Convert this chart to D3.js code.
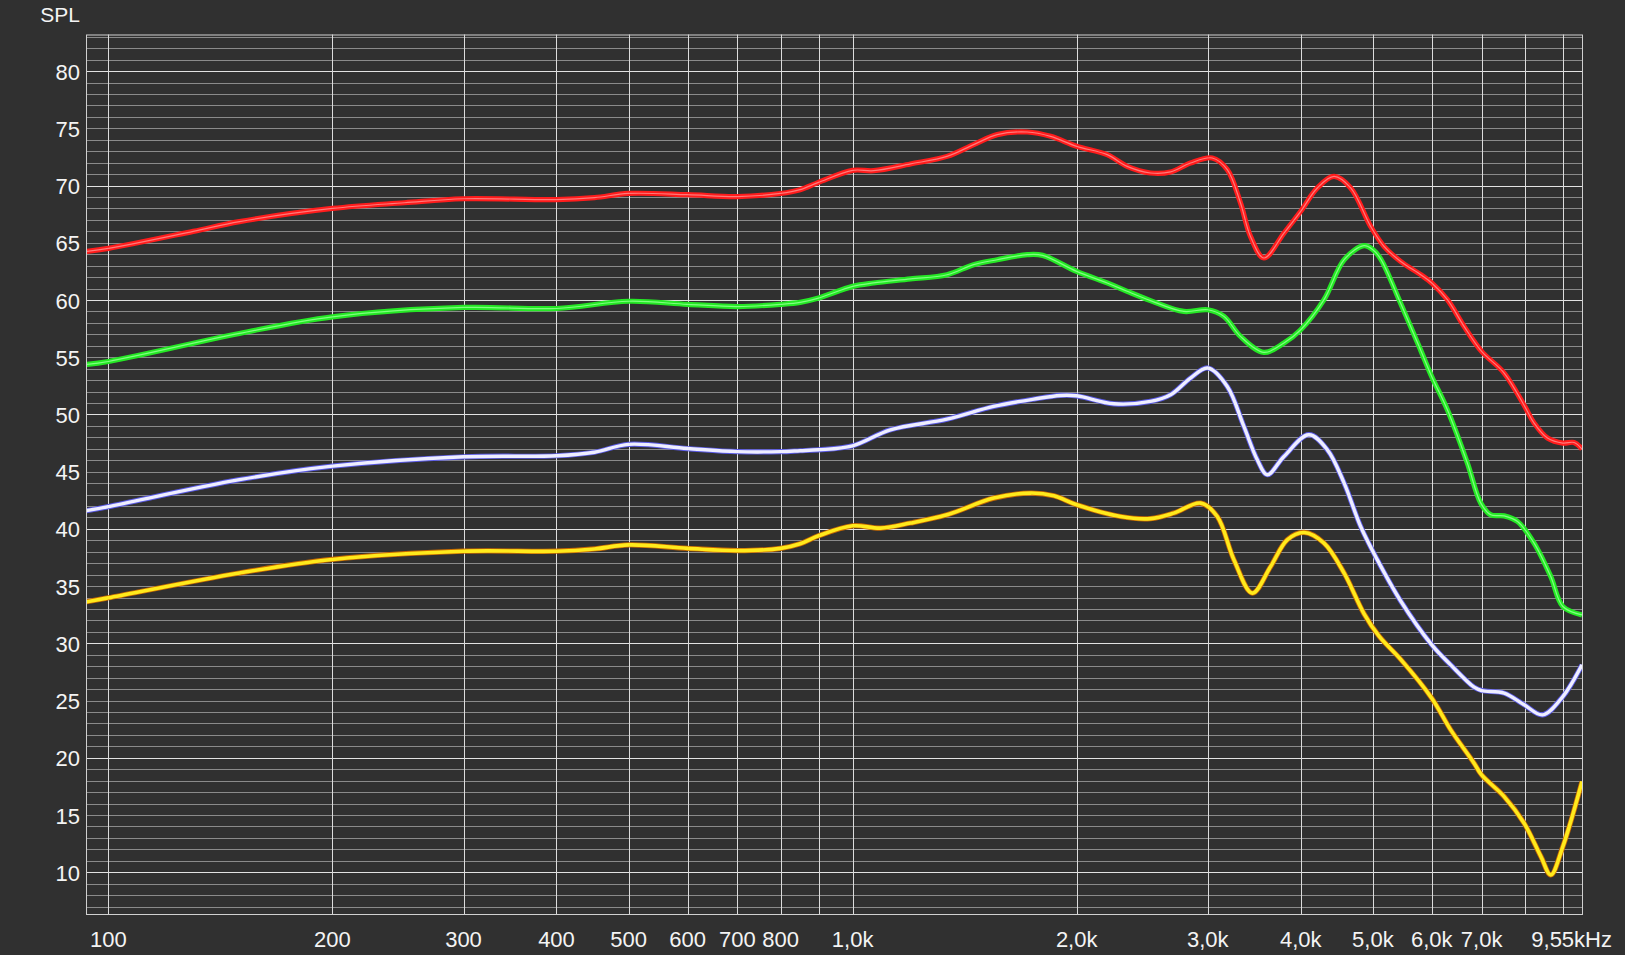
<!DOCTYPE html>
<html>
<head>
<meta charset="utf-8">
<script src="https://cdn.jsdelivr.net/npm/d3@7"></script>
<style>
  html, body { margin: 0; padding: 0; background: #303030; }
  svg { display: block; }
  text { font-family: "Liberation Sans", Arial, sans-serif; fill: #f4f4f4; }
</style>
</head>
<body>
<svg id="chart" width="1625" height="955"></svg>
<script>
// ---- Data (frequency in Hz, SPL in dB) ----
const redFreq = [93.3,100,130,150,200,250,300,400,450,500,600,700,800,850,900,1000,1067,1196,1339,1454,1564,1716,1845,2000,2198,2338,2513,2674,2844,3042,3187,3320,3424,3569,3798,4000,4211,4434,4669,4966,5175,5450,5799,6000,6297,6630,7000,7506,8000,8234,8582,9000,9318,9550];
const redSpl  = [64.24,64.51,66.0,66.85,68.0,68.5,68.85,68.77,68.95,69.31,69.2,69.04,69.31,69.64,70.28,71.33,71.3,71.89,72.55,73.58,74.45,74.68,74.3,73.43,72.7,71.68,71.1,71.19,71.97,72.41,71.39,68.48,65.56,63.67,65.85,67.75,69.79,70.8,69.79,66.43,64.69,63.37,62.21,61.49,60.03,57.7,55.51,53.62,50.7,49.25,47.94,47.5,47.55,46.97];

const greenFreq = [93.3,100,150,200,300,400,500,600,700,800,850,900,1000,1067,1196,1339,1454,1564,1716,1800,2000,2198,2338,2513,2786,3000,3154,3320,3569,3798,4000,4299,4575,4864,5000,5122,5450,5799,6000,6297,6699,6982,7201,7506,7823,8234,8670,9000,9550];
const greenSpl  = [54.36,54.63,57.08,58.53,59.35,59.26,59.89,59.62,59.43,59.62,59.79,60.17,61.19,61.49,61.84,62.21,63.09,63.52,63.96,63.9,62.5,61.49,60.76,59.95,59.0,59.15,58.57,56.82,55.42,56.24,57.4,60.03,63.52,64.75,64.4,63.6,59.7,55.6,53.3,50.41,45.75,42.25,41.23,41.14,40.65,38.76,35.84,33.22,32.49];

const blueFreq = [93.3,100,150,200,300,400,450,500,600,700,800,850,900,1000,1124,1339,1547,1752,1902,2000,2244,2513,2674,2844,3000,3187,3355,3497,3607,3798,4102,4344,4575,4815,5070,5450,6000,6362,6839,7000,7506,7985,8453,9000,9550];
const blueSpl  = [41.59,41.95,44.3,45.48,46.3,46.39,46.7,47.39,47.02,46.75,46.75,46.83,46.91,47.26,48.66,49.59,50.7,51.34,51.66,51.63,50.93,51.14,51.72,53.18,54.06,52.45,48.95,46.04,44.73,46.33,48.23,46.91,44.0,40.21,37.3,33.7,29.87,28.12,26.17,25.87,25.65,24.63,23.75,25.35,28.12];

const yellowFreq = [93.3,100,150,200,300,400,450,500,600,700,800,850,900,1000,1090,1196,1339,1547,1734,1864,2000,2291,2513,2701,2935,3090,3253,3444,3644,3837,4041,4299,4575,4864,5100,5450,6000,6362,6839,7000,7506,7985,8410,8670,9000,9550];
const yellowSpl  = [33.62,33.98,36.15,37.33,38.05,38.05,38.25,38.6,38.3,38.1,38.3,38.7,39.4,40.27,40.07,40.51,41.23,42.69,43.13,42.9,42.11,41.08,40.9,41.38,42.25,41.08,37.3,34.39,36.71,39.05,39.69,38.76,36.14,32.6,30.6,28.6,25.21,22.44,19.53,18.5,16.61,14.28,11.37,9.77,12.24,17.92];

// ---- Axis / tick definitions ----
const xGridFreqs  = [100,200,300,400,500,600,700,800,900,1000,2000,3000,4000,5000,6000,7000,8000,9000];
const xLabelFreqs = [100,200,300,400,500,600,700,800,1000,2000,3000,4000,5000,6000,7000];
const xLabelTexts = ["100","200","300","400","500","600","700","800","1,0k","2,0k","3,0k","4,0k","5,0k","6,0k","7,0k"];
const xEndLabel   = "9,55kHz";
const yLabelValues = [10,15,20,25,30,35,40,45,50,55,60,65,70,75,80];
const yUnitLabel = "SPL";
const fMin = 93.3, fMax = 9550;
const dbMin = 6.35, dbMax = 83.2;

// ---- Layout ----
const L = 86, R = 1582, T = 34.5, B = 914;
const svg = d3.select("#chart");

const x = d3.scaleLog().domain([fMin, fMax]).range([L, R]);
const y = d3.scaleLinear().domain([dbMin, dbMax]).range([B, T]);

svg.append("rect").attr("width", 1625).attr("height", 955).attr("fill", "#303030");

const grid = svg.append("g");
const minorDb = d3.range(Math.ceil(dbMin), Math.floor(dbMax) + 1).filter(v => v % 10 !== 0);
grid.selectAll("line.minor").data(minorDb).enter().append("line")
  .attr("x1", L).attr("x2", R)
  .attr("y1", d => Math.round(y(d)) + 0.5).attr("y2", d => Math.round(y(d)) + 0.5)
  .attr("stroke", "#8a8a8a").attr("stroke-width", 1);
const majorDb = d3.range(10, 81, 10);
grid.selectAll("line.major").data(majorDb).enter().append("line")
  .attr("x1", L).attr("x2", R)
  .attr("y1", d => Math.round(y(d)) + 0.5).attr("y2", d => Math.round(y(d)) + 0.5)
  .attr("stroke", "#e2e2e2").attr("stroke-width", 1);
grid.selectAll("line.v").data(xGridFreqs).enter().append("line")
  .attr("x1", d => Math.round(x(d)) + 0.5).attr("x2", d => Math.round(x(d)) + 0.5)
  .attr("y1", T).attr("y2", B)
  .attr("stroke", "#dcdcdc").attr("stroke-width", 1);
svg.append("rect").attr("x", L + 0.5).attr("y", T + 0.5).attr("width", R - L).attr("height", B - T)
  .attr("fill", "none").attr("stroke", "#d0d0d0").attr("stroke-width", 1);

// ---- Axis labels ----
svg.append("g").selectAll("text").data(yLabelValues).enter().append("text")
  .attr("x", 80).attr("y", d => y(d) + 8.5)
  .attr("text-anchor", "end").attr("font-size", 22).text(d => d);
svg.append("text").attr("x", 80).attr("y", 22).attr("text-anchor", "end")
  .attr("font-size", 21).text(yUnitLabel);

svg.append("g").selectAll("text").data(xLabelFreqs).enter().append("text")
  .attr("x", d => x(d)).attr("y", 947)
  .attr("text-anchor", "middle").attr("font-size", 22)
  .text((d, i) => xLabelTexts[i]);
svg.append("text").attr("x", 1612).attr("y", 947).attr("text-anchor", "end")
  .attr("font-size", 22).text(xEndLabel);

// ---- Curves ----
svg.append("clipPath").attr("id", "clip").append("rect")
  .attr("x", L + 1).attr("y", T + 1).attr("width", R - L - 1).attr("height", B - T - 1);

const line = d3.line().x(d => x(d[0])).y(d => y(d[1])).curve(d3.curveCatmullRom.alpha(0.5));
const series = [
  { f: redFreq, v: redSpl, outer: "#ff1c1c", ow: 5.2, inner: "#ff7a7a", iw: 1.2 },
  { f: greenFreq, v: greenSpl, outer: "#25e825", ow: 5.2, inner: "#80ff80", iw: 1.2 },
  { f: blueFreq, v: blueSpl, outer: "#5a5ae6", ow: 5.2, inner: "#eeeeff", iw: 3.4 },
  { f: yellowFreq, v: yellowSpl, outer: "#c86a00", ow: 5.2, inner: "#ffea1c", iw: 3.6 }
];
const curves = svg.append("g").attr("clip-path", "url(#clip)");
series.forEach(s => {
  const pts = s.f.map((f, i) => [f, s.v[i]]);
  curves.append("path").attr("d", line(pts)).attr("fill", "none")
    .attr("stroke", s.outer).attr("stroke-width", s.ow).attr("stroke-linejoin", "round");
  curves.append("path").attr("d", line(pts)).attr("fill", "none")
    .attr("stroke", s.inner).attr("stroke-width", s.iw).attr("stroke-linejoin", "round");
});
</script>
</body>
</html>
